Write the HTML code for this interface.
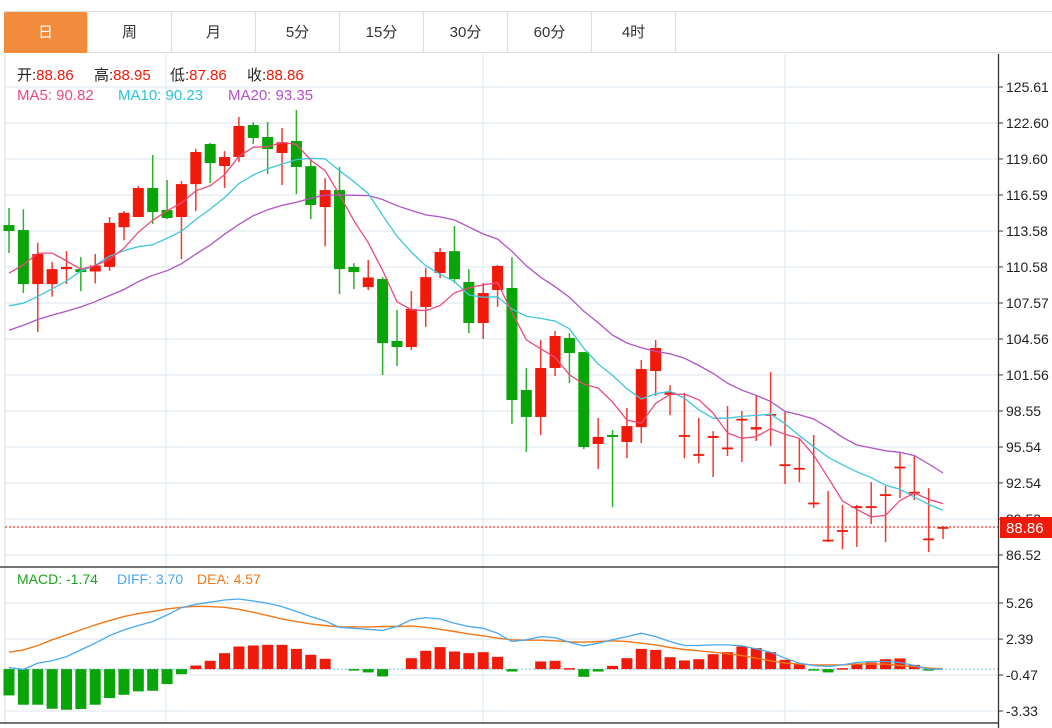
<!DOCTYPE html>
<html><head><meta charset="utf-8">
<style>
html,body{margin:0;padding:0;background:#fff;width:1052px;height:728px;overflow:hidden;font-family:"Liberation Sans","Noto Sans CJK SC",sans-serif;}
#tabs{position:absolute;left:4px;top:11px;height:42px;width:1048px;border-top:1px solid #dcdcdc;border-bottom:1px solid #dcdcdc;box-sizing:border-box;}
.tab{position:absolute;top:0;height:41px;width:84px;border-right:1px solid #dcdcdc;box-sizing:border-box;text-align:center;line-height:41px;font-size:15px;color:#333;}
.tab.on{background:#f28c3c;color:#fff;border-radius:2px 2px 0 0;}
.lg{position:absolute;font-size:15px;white-space:nowrap;}
svg{position:absolute;left:0;top:0;}
</style></head><body>
<div id="tabs">
<div class="tab on" style="left:0">日</div>
<div class="tab" style="left:84px">周</div>
<div class="tab" style="left:168px">月</div>
<div class="tab" style="left:252px">5分</div>
<div class="tab" style="left:336px">15分</div>
<div class="tab" style="left:420px">30分</div>
<div class="tab" style="left:504px">60分</div>
<div class="tab" style="left:588px">4时</div>
</div>
<svg id="chart" width="1052" height="728"></svg>
<div class="lg" style="left:17px;top:64px;color:#222">开:<span style="color:#f0190a">88.86</span></div>
<div class="lg" style="left:94px;top:64px;color:#222">高:<span style="color:#f0190a">88.95</span></div>
<div class="lg" style="left:170px;top:64px;color:#222">低:<span style="color:#f0190a">87.86</span></div>
<div class="lg" style="left:247px;top:64px;color:#222">收:<span style="color:#f0190a">88.86</span></div>
<div class="lg" style="left:17px;top:87px;color:#ec4a7c">MA5: 90.82</div>
<div class="lg" style="left:118px;top:87px;color:#2ec4d8">MA10: 90.23</div>
<div class="lg" style="left:228px;top:87px;color:#b152c6">MA20: 93.35</div>
<div class="lg" style="left:17px;top:571px;font-size:14px;color:#1aa31a">MACD: -1.74</div>
<div class="lg" style="left:117px;top:571px;font-size:14px;color:#4aa8f0">DIFF: 3.70</div>
<div class="lg" style="left:197px;top:571px;font-size:14px;color:#f07818">DEA: 4.57</div>
<script>
var opens=[114.08,113.66,109.15,109.15,110.4,110.4,110.2,110.58,113.9,114.75,117.17,115.33,114.75,117.5,120.85,119.01,119.76,122.43,121.43,120.1,121.1,119.0,115.58,117.0,110.58,108.9,109.57,104.4,103.89,107.24,110.07,111.9,109.32,105.9,108.65,108.82,100.3,98.05,102.14,104.64,103.47,95.79,96.54,95.96,97.2,101.89,99.9,96.4,94.9,96.3,95.4,97.8,97.0,98.2,94.0,93.7,90.8,87.7,88.5,90.5,90.5,91.5,93.8,91.7,87.8,88.86];
var closes=[113.58,109.15,111.66,110.4,110.58,110.15,110.7,114.25,115.1,117.17,115.17,114.67,117.5,120.18,119.26,119.76,122.35,121.35,120.43,121.0,118.93,115.75,117.0,110.4,110.15,109.7,104.22,103.89,107.07,109.73,111.83,109.57,105.9,108.4,110.66,99.46,98.05,102.14,104.81,103.39,95.54,96.38,96.38,97.29,102.05,103.81,100.1,96.54,94.95,96.46,95.5,97.9,97.2,98.3,94.1,93.8,90.9,87.8,88.6,90.6,90.6,91.6,93.9,91.8,87.9,88.86];
var highs=[115.5,115.4,112.6,111.0,111.9,111.4,111.66,114.75,115.25,117.34,119.93,117.84,117.76,120.43,120.93,120.26,123.1,122.68,122.68,122.18,123.7,119.6,118.0,118.93,110.9,111.16,109.73,107.0,108.57,110.5,112.16,114.0,110.4,109.23,110.75,111.4,102.14,104.47,105.23,105.06,103.47,97.96,96.96,98.8,102.8,104.47,100.7,100.05,97.96,96.87,98.96,98.55,99.88,101.8,98.46,96.3,96.54,91.86,90.68,90.7,92.6,92.28,95.03,94.87,92.1,88.95];
var lows=[111.74,108.4,105.15,108.1,109.15,108.55,109.2,110.25,112.8,114.75,114.17,114.58,111.24,115.25,117.59,117.17,119.34,120.85,118.34,117.42,116.67,114.58,112.3,108.32,108.73,108.65,101.56,102.3,103.64,105.56,109.65,109.23,105.06,104.56,107.24,97.46,95.13,96.54,101.47,100.88,95.37,93.71,90.52,94.6,95.87,99.8,98.2,94.6,94.2,93.04,94.79,94.29,96.04,95.62,92.45,92.6,90.44,87.6,87.0,87.2,89.1,87.6,91.28,91.1,86.76,87.86];
var priorCloses=[101,102,103,104,103,102,104,105,104,104.6,107,106,104,104,102,105.8,106.67,110.4,113.9];
var priceTicks=[125.61,122.60,119.60,116.59,113.58,110.58,107.57,104.56,101.56,98.55,95.54,92.54,89.53,86.52];
var lastPrice=88.86;
var diffs=[0.13,-0.03,0.48,0.66,1.0,1.53,2.06,2.67,3.12,3.47,3.78,4.31,4.89,5.16,5.32,5.5,5.58,5.42,5.24,4.97,4.58,4.18,3.84,3.33,3.25,3.17,3.07,3.39,3.92,4.1,3.99,3.65,3.39,3.25,2.86,2.2,2.33,2.59,2.51,2.14,1.85,2.06,2.33,2.59,2.86,2.59,2.2,1.88,1.88,1.93,1.93,1.85,1.61,1.35,0.87,0.48,0.29,0.21,0.34,0.53,0.61,0.61,0.53,0.29,0,0];
var deas=[1.35,1.53,1.88,2.33,2.72,3.12,3.52,3.86,4.18,4.42,4.58,4.79,4.92,5.0,4.97,4.92,4.76,4.52,4.26,3.99,3.78,3.6,3.47,3.36,3.36,3.36,3.39,3.39,3.44,3.33,3.17,2.99,2.8,2.65,2.46,2.33,2.3,2.3,2.25,2.17,2.14,2.2,2.25,2.2,2.06,1.93,1.72,1.56,1.46,1.35,1.22,1.08,0.87,0.66,0.48,0.4,0.34,0.34,0.34,0.4,0.42,0.4,0.29,0.19,0.08,0.03];
var macdBars=[-2.09,-2.83,-2.83,-3.15,-3.23,-3.17,-2.83,-2.3,-2.04,-1.77,-1.72,-1.19,-0.4,0.29,0.66,1.27,1.8,1.88,1.93,1.93,1.61,1.14,0.82,0,-0.08,-0.26,-0.58,0,0.87,1.46,1.75,1.4,1.27,1.35,0.98,-0.19,0,0.61,0.66,0.08,-0.61,-0.19,0.26,0.87,1.61,1.53,0.95,0.69,0.79,1.19,1.35,1.8,1.67,1.35,0.74,0.4,-0.08,-0.26,0.08,0.42,0.53,0.79,0.85,0.34,-0.08,0];
var macdTicks=[5.26,2.39,-0.47,-3.33];

var NS='http://www.w3.org/2000/svg', svg=document.getElementById('chart');
function mk(tag,attrs,parent){var e=document.createElementNS(NS,tag);for(var k in attrs)e.setAttribute(k,attrs[k]);(parent||svg).appendChild(e);return e;}
var L=5,R=998,PT=87,PB=555,MT=603,MB=711;
function x(i){return 9+i*14.37;}
function y(v){return PT+(priceTicks[0]-v)*(PB-PT)/(priceTicks[0]-priceTicks[priceTicks.length-1]);}
function my(v){return MT+(macdTicks[0]-v)*(MB-MT)/(macdTicks[0]-macdTicks[macdTicks.length-1]);}
var RED='#f01a0a',GREEN='#08a408';

priceTicks.forEach(function(t){
  var g=mk('line',{x1:L,x2:R,y1:y(t),y2:y(t),stroke:'#e6edf3','stroke-width':1.5});
  
  
});
macdTicks.forEach(function(t){
  var g=mk('line',{x1:L,x2:R,y1:my(t),y2:my(t),stroke:'#e6edf3','stroke-width':1.5});
  
  
});
[166,483,785].forEach(function(vx){
  var g=mk('line',{x1:vx,x2:vx,y1:54,y2:723,stroke:'#e6edf3','stroke-width':1.5});
  
  
});
var lb=mk('line',{x1:L,x2:L,y1:54,y2:723,stroke:'#e2e8ee','stroke-width':1.5});



for(var i=0;i<opens.length;i++){
  var up=closes[i]>=opens[i], c=up?RED:GREEN, cx=x(i);
  var w=mk('line',{x1:cx,x2:cx,y1:y(highs[i]),y2:y(lows[i]),stroke:c,'stroke-width':1.5,opacity:0.85});
  
  
  var t=Math.min(y(opens[i]),y(closes[i])), h=Math.max(1.8,Math.abs(y(opens[i])-y(closes[i])));
  var b=mk('rect',{x:cx-5.5,y:t,width:11,height:h,fill:c});
  
  
}

var allC=priorCloses.concat(closes);
function ma(n){var out=[];for(var i=0;i<closes.length;i++){var s=0;for(var k=0;k<n;k++)s+=allC[i+priorCloses.length-k];out.push(s/n);}return out;}
function line(vals,fy,color,name,w){
  var d=vals.map(function(v,i){return (i?'L':'M')+x(i).toFixed(1)+','+fy(v).toFixed(1);}).join('');
  var p=mk('path',{d:d,fill:'none',stroke:color,'stroke-width':w||1.3});
  
  
}
line(ma(20),y,'#b152c6','ma20-line');
line(ma(10),y,'#3ec6dc','ma10-line');
line(ma(5),y,'#ec4a7c','ma5-line');

var lp=mk('line',{x1:L,x2:R,y1:y(lastPrice),y2:y(lastPrice),stroke:'#f03a2a','stroke-width':1.3,'stroke-dasharray':'2,2'});



var zl=mk('line',{x1:L,x2:R,y1:my(0),y2:my(0),stroke:'#8ccbe8','stroke-width':1.2,'stroke-dasharray':'2,2'});


macdBars.forEach(function(v,i){
  if(Math.abs(v)<0.01)return;
  var t=Math.min(my(0),my(v)),h=Math.max(1.5,Math.abs(my(v)-my(0)));
  var r=mk('rect',{x:x(i)-5.5,y:t,width:11,height:h,fill:v>=0?RED:GREEN});
  
  
});
line(deas,my,'#f07818','dea-line',1.4);
line(diffs,my,'#4aa8f0','diff-line',1.3);

var sep=mk('line',{x1:0,x2:R,y1:567,y2:567,stroke:'#222','stroke-width':1.3});


var bot=mk('line',{x1:0,x2:R,y1:723,y2:723,stroke:'#222','stroke-width':1.3});


var ax=mk('line',{x1:R+0.5,x2:R+0.5,y1:54,y2:728,stroke:'#333','stroke-width':1.3});


function tick(v,ty,name){
  var tk=mk('line',{x1:R+1,x2:R+5,y1:ty,y2:ty,stroke:'#333','stroke-width':1});
  
  
  var tx=mk('text',{x:R+8,y:ty+5,'font-size':14,fill:'#222','font-family':'Liberation Sans, sans-serif'});
  tx.textContent=v.toFixed(2);
  
  
}
priceTicks.forEach(function(t){tick(t,y(t),'price-tick-label');});
macdTicks.forEach(function(t){tick(t,my(t),'macd-tick-label');});
var ly=y(lastPrice);
var lr=mk('rect',{x:R+2,y:ly-10,width:54,height:21,fill:'#f01a0a'});


var lt=mk('text',{x:R+8,y:ly+6,'font-size':15,fill:'#fff','font-family':'Liberation Sans, sans-serif'});
lt.textContent=lastPrice.toFixed(2);


</script>
</body></html>
